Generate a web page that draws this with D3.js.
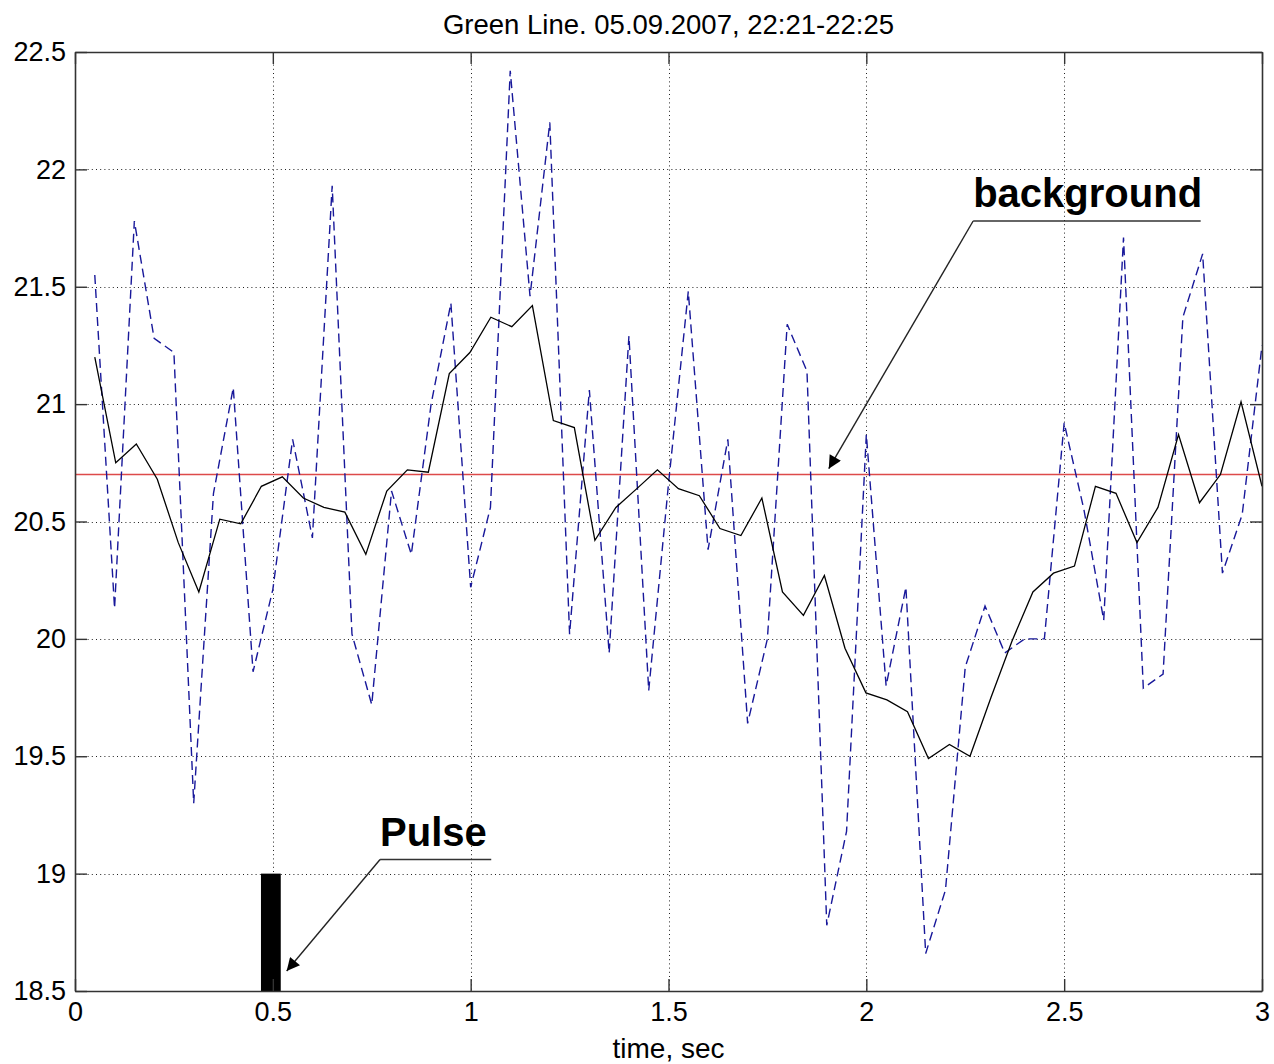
<!DOCTYPE html>
<html>
<head>
<meta charset="utf-8">
<script src="https://cdn.jsdelivr.net/npm/d3@7"></script>
<style>
  body { margin: 0; background: #fff; }
  svg { display: block; }
  text { font-family: "Liberation Sans", Arial, sans-serif; fill: #000; }
</style>
</head>
<body>
<svg id="chart" width="1274" height="1064"></svg>
<script>
// ---- chart text ----
const chartTitle = "Green Line. 05.09.2007, 22:21-22:25";
const xAxisLabel = "time, sec";

// ---- axis ticks ----
const xTicks = [0, 0.5, 1, 1.5, 2, 2.5, 3];
const xTickLabels = ["0", "0.5", "1", "1.5", "2", "2.5", "3"];
const yTicks = [18.5, 19, 19.5, 20, 20.5, 21, 21.5, 22, 22.5];
const yTickLabels = ["18.5", "19", "19.5", "20", "20.5", "21", "21.5", "22", "22.5"];

// ---- raw signal (dashed blue), sampled every 0.05 s ----
const rawTimes = [
  0.05, 0.10, 0.15, 0.20, 0.25, 0.30, 0.35, 0.40, 0.45, 0.50,
  0.55, 0.60, 0.65, 0.70, 0.75, 0.80, 0.85, 0.90, 0.95, 1.00,
  1.05, 1.10, 1.15, 1.20, 1.25, 1.30, 1.35, 1.40, 1.45, 1.50,
  1.55, 1.60, 1.65, 1.70, 1.75, 1.80, 1.85, 1.90, 1.95, 2.00,
  2.05, 2.10, 2.15, 2.20, 2.25, 2.30, 2.35, 2.40, 2.45, 2.50,
  2.55, 2.60, 2.65, 2.70, 2.75, 2.80, 2.85, 2.90, 2.95, 3.00
];
const rawValues = [
  21.55, 20.13, 21.78, 21.28, 21.22, 19.30, 20.62, 21.07, 19.86, 20.21,
  20.85, 20.43, 21.93, 20.02, 19.72, 20.63, 20.36, 21.00, 21.43, 20.22,
  20.56, 22.42, 21.46, 22.20, 20.02, 21.06, 19.94, 21.29, 19.78, 20.66,
  21.48, 20.38, 20.85, 19.64, 20.00, 21.34, 21.14, 18.78, 19.18, 20.87,
  19.80, 20.22, 18.66, 18.93, 19.88, 20.14, 19.94, 20.00, 20.00, 20.92,
  20.55, 20.08, 21.71, 19.79, 19.85, 21.37, 21.64, 20.28, 20.53, 21.25
];

// ---- smoothed signal (solid black) ----
const smoothTimes = [
  0.050, 0.103, 0.155, 0.208, 0.261, 0.313, 0.366, 0.419, 0.471, 0.524,
  0.577, 0.629, 0.682, 0.735, 0.788, 0.840, 0.893, 0.946, 0.998, 1.051,
  1.104, 1.156, 1.209, 1.262, 1.314, 1.367, 1.420, 1.472, 1.525, 1.578,
  1.630, 1.683, 1.736, 1.788, 1.841, 1.894, 1.946, 1.999, 2.052, 2.104,
  2.157, 2.210, 2.262, 2.315, 2.368, 2.421, 2.473, 2.526, 2.579, 2.631,
  2.684, 2.737, 2.789, 2.842, 2.895, 2.947, 3.000
];
const smoothValues = [
  21.20, 20.75, 20.83, 20.68, 20.41, 20.20, 20.51, 20.49, 20.65, 20.69,
  20.60, 20.56, 20.54, 20.36, 20.63, 20.72, 20.71, 21.13, 21.22, 21.37,
  21.33, 21.42, 20.93, 20.90, 20.42, 20.56, 20.64, 20.72, 20.64, 20.61,
  20.47, 20.44, 20.60, 20.20, 20.10, 20.27, 19.96, 19.77, 19.74, 19.69,
  19.49, 19.55, 19.50, 19.75, 19.99, 20.20, 20.28, 20.31, 20.65, 20.62,
  20.41, 20.56, 20.87, 20.58, 20.70, 21.01, 20.65
];

// ---- background level and the pulse ----
const backgroundLevel = 20.7;
const pulseStart = 0.47, pulseEnd = 0.52, pulseLevel = 19;

// ---- callouts (label anchor, underline end, arrow tip), in data units ----
const callouts = [
  { text: "background", anchor: [2.27, 21.78], lineEnd: [2.845, 21.78], tip: [1.905, 20.725] },
  { text: "Pulse", anchor: [0.771, 19.06], lineEnd: [1.052, 19.06], tip: [0.535, 18.585] }
];

// ---- layout ----
const W = 1274, H = 1064;
const margin = { top: 52, right: 12, bottom: 73, left: 75 };
const svg = d3.select("#chart");
const x = d3.scaleLinear().domain([0, 3]).range([margin.left, W - margin.right]);
const y = d3.scaleLinear().domain([18.5, 22.5]).range([H - margin.bottom, margin.top]);

const defs = svg.append("defs");
defs.append("clipPath").attr("id", "plotClip")
  .append("rect")
  .attr("x", x(0)).attr("y", y(22.5))
  .attr("width", x(3) - x(0)).attr("height", y(18.5) - y(22.5));
defs.append("marker")
  .attr("id", "arrowHead")
  .attr("viewBox", "0 0 10 10")
  .attr("refX", 10).attr("refY", 5)
  .attr("markerWidth", 18).attr("markerHeight", 13)
  .attr("markerUnits", "userSpaceOnUse")
  .attr("orient", "auto")
  .append("path").attr("d", "M0,0 L10,5 L0,10 Z").attr("fill", "#000");

// dotted grid
const grid = svg.append("g").attr("stroke", "#222").attr("stroke-width", 1)
  .attr("stroke-dasharray", "1,3.2");
grid.selectAll("line.vx").data(xTicks).join("line")
  .attr("x1", d => Math.round(x(d)) + 0.5).attr("x2", d => Math.round(x(d)) + 0.5)
  .attr("y1", y(22.5)).attr("y2", y(18.5));
grid.selectAll("line.hy").data(yTicks).join("line")
  .attr("y1", d => Math.round(y(d)) + 0.5).attr("y2", d => Math.round(y(d)) + 0.5)
  .attr("x1", x(0)).attr("x2", x(3));

const plot = svg.append("g").attr("clip-path", "url(#plotClip)");

// background level
plot.append("line")
  .attr("x1", x(0)).attr("x2", x(3))
  .attr("y1", y(backgroundLevel)).attr("y2", y(backgroundLevel))
  .attr("stroke", "#dd4a4a").attr("stroke-width", 1.5);

// raw signal
const rawPts = rawTimes.map((t, i) => [t, rawValues[i]]);
plot.append("path").datum(rawPts)
  .attr("fill", "none").attr("stroke", "#18189a").attr("stroke-width", 1.4)
  .attr("stroke-dasharray", "9,5")
  .attr("d", d3.line().x(d => x(d[0])).y(d => y(d[1])));

// smoothed signal
const smoothPts = smoothTimes.map((t, i) => [t, smoothValues[i]]);
plot.append("path").datum(smoothPts)
  .attr("fill", "none").attr("stroke", "#000").attr("stroke-width", 1.3)
  .attr("stroke-linejoin", "miter")
  .attr("d", d3.line().x(d => x(d[0])).y(d => y(d[1])));

// pulse bar
plot.append("rect")
  .attr("x", x(pulseStart)).attr("width", x(pulseEnd) - x(pulseStart))
  .attr("y", y(pulseLevel)).attr("height", y(18.5) - y(pulseLevel))
  .attr("fill", "#000");

// axes, ticks pointing inward
const tickLen = 12;
const axisFont = "27px";
const fmtX = (d, i) => xTickLabels[i];
const fmtY = (d, i) => yTickLabels[i];

const gx = svg.append("g").attr("transform", `translate(0,${y(18.5)})`)
  .call(d3.axisBottom(x).tickValues(xTicks).tickFormat(fmtX)
    .tickSizeInner(-tickLen).tickSizeOuter(0).tickPadding(11));
const gxTop = svg.append("g").attr("transform", `translate(0,${y(22.5)})`)
  .call(d3.axisTop(x).tickValues(xTicks).tickFormat("")
    .tickSizeInner(-tickLen).tickSizeOuter(0));
const gy = svg.append("g").attr("transform", `translate(${x(0)},0)`)
  .call(d3.axisLeft(y).tickValues(yTicks).tickFormat(fmtY)
    .tickSizeInner(-tickLen).tickSizeOuter(0).tickPadding(9));
const gyRight = svg.append("g").attr("transform", `translate(${x(3)},0)`)
  .call(d3.axisRight(y).tickValues(yTicks).tickFormat("")
    .tickSizeInner(-tickLen).tickSizeOuter(0));

[gx, gxTop, gy, gyRight].forEach(g => {
  g.select(".domain").attr("stroke", "#333").attr("stroke-width", 1.6);
  g.selectAll(".tick line").attr("stroke", "#333").attr("stroke-width", 1.4);
  g.selectAll(".tick text")
    .style("font-family", '"Liberation Sans", Arial, sans-serif')
    .style("font-size", axisFont).attr("fill", "#111");
});

// title and x label
svg.append("text")
  .attr("x", (x(0) + x(3)) / 2).attr("y", 34)
  .attr("text-anchor", "middle")
  .style("font-size", "27.5px")
  .text(chartTitle);
svg.append("text")
  .attr("x", (x(0) + x(3)) / 2).attr("y", 1058)
  .attr("text-anchor", "middle")
  .style("font-size", "28px")
  .text(xAxisLabel);

// callouts: bold label, underline and arrow
const co = svg.append("g");
callouts.forEach(c => {
  const [ax, ay] = [x(c.anchor[0]), y(c.anchor[1])];
  co.append("text")
    .attr("x", ax).attr("y", ay - 14)
    .style("font-size", "40px").style("font-weight", "bold")
    .text(c.text);
  co.append("line")
    .attr("x1", ax).attr("y1", ay).attr("x2", x(c.lineEnd[0])).attr("y2", y(c.lineEnd[1]))
    .attr("stroke", "#333").attr("stroke-width", 1.5);
  co.append("line")
    .attr("x1", ax).attr("y1", ay).attr("x2", x(c.tip[0])).attr("y2", y(c.tip[1]))
    .attr("stroke", "#222").attr("stroke-width", 1.4)
    .attr("marker-end", "url(#arrowHead)");
});
</script>
</body>
</html>
